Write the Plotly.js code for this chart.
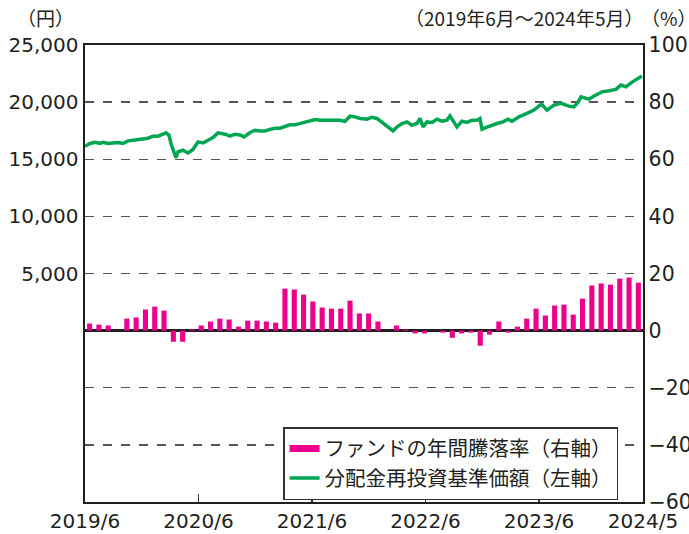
<!DOCTYPE html>
<html>
<head>
<meta charset="utf-8">
<script src="https://cdn.plot.ly/plotly-3.0.1.min.js"></script>
<style>
  html, body { margin: 0; padding: 0; background: #ffffff; }
  #chart { width: 689px; height: 534px; }
</style>
</head>
<body>
<div id="chart"></div>
<script>
// Monthly categories (2019/6 – 2024/5)
const months = [
  '2019/6','2019/7','2019/8','2019/9','2019/10','2019/11','2019/12',
  '2020/1','2020/2','2020/3','2020/4','2020/5','2020/6','2020/7','2020/8','2020/9','2020/10','2020/11','2020/12',
  '2021/1','2021/2','2021/3','2021/4','2021/5','2021/6','2021/7','2021/8','2021/9','2021/10','2021/11','2021/12',
  '2022/1','2022/2','2022/3','2022/4','2022/5','2022/6','2022/7','2022/8','2022/9','2022/10','2022/11','2022/12',
  '2023/1','2023/2','2023/3','2023/4','2023/5','2023/6','2023/7','2023/8','2023/9','2023/10','2023/11','2023/12',
  '2024/1','2024/2','2024/3','2024/4','2024/5'
];
// Fund annual return (%), right axis
const annualReturn = [
  2.5, 2.1, 1.8, 0.0, 4.2, 4.6, 7.4, 8.4, 7.0, -3.9, -3.9, 0.4,
  1.8, 3.2, 4.2, 3.9, 1.4, 3.5, 3.5, 3.2, 2.8, 14.7, 14.4, 12.6,
  10.2, 8.1, 7.7, 7.7, 10.5, 6.0, 6.0, 3.2, 0.0, 1.8, 0.4, -1.0,
  -1.0, 0.0, -0.7, -2.5, -1.0, -0.7, -5.3, -1.4, 3.2, -0.7, 1.4, 4.2,
  7.7, 5.3, 8.8, 9.1, 5.6, 11.2, 15.8, 16.5, 16.1, 18.2, 18.6, 16.8
];
// NAV with dividends reinvested (yen), left axis; time in months since 2019/6
const navMonth = [
  0, 0.53, 1.06, 1.59, 1.90, 2.43, 2.96, 3.49, 4.02, 4.55, 5.08, 5.60, 6.13, 6.66, 7.19, 7.72,
  8.25, 8.56, 8.88, 9.09, 9.41, 9.62, 9.83, 10.36, 10.89, 11.42, 11.95, 12.48, 13.00, 13.53,
  14.06, 14.49, 14.80, 15.33, 15.86, 16.39, 16.81, 17.45, 17.97, 18.50, 19.03, 19.56, 20.09,
  20.62, 21.15, 21.67, 22.20, 22.73, 23.26, 23.79, 24.32, 24.85, 25.38, 25.90, 26.43, 26.96,
  27.49, 28.02, 28.55, 29.08, 29.82, 30.34, 30.87, 31.40, 31.93, 32.57, 32.99, 33.52, 34.05,
  34.57, 35.10, 35.42, 35.74, 36.16, 36.69, 37.22, 37.75, 38.27, 38.59, 39.01, 39.33, 39.86,
  40.39, 40.92, 41.45, 41.76, 41.98, 42.50, 43.03, 43.56, 44.20, 44.72, 45.15, 45.89, 46.73,
  47.47, 48.11, 48.32, 48.85, 49.59, 50.33, 51.17, 51.70, 52.13, 52.44, 53.29, 53.82, 54.66,
  55.40, 56.14, 56.67, 57.20, 57.73, 58.36, 58.89
];
const navValue = [
  16140, 16380, 16490, 16380, 16490, 16380, 16430, 16460, 16380, 16610, 16670, 16730, 16840, 16840, 17020, 17020,
  17190, 17310, 17110, 16380, 15610, 15130, 15640, 15790, 15550, 15850, 16520, 16430, 16670, 16900,
  17310, 17240, 17190, 17020, 17190, 17130, 16960, 17340, 17540, 17480, 17480, 17610, 17720,
  17720, 17830, 18010, 18010, 18130, 18250, 18360, 18480, 18420, 18420, 18420, 18360, 18420,
  18310, 18770, 18710, 18570, 18510, 18680, 18570, 18220, 17920, 17480, 17830, 18130, 18270,
  17980, 18130, 18570, 17830, 18270, 18220, 18510, 18330, 18420, 18800, 18270, 17830, 18330,
  18220, 18420, 18420, 18570, 17630, 17810, 17980, 18130, 18270, 18510, 18330, 18710, 19010,
  19300, 19740, 19780, 19300, 19740, 19890, 19650, 19590, 20000, 20470, 20260, 20530, 20900,
  20990, 21110, 21490, 21340, 21690, 21990, 22280
];
const xTickVals = [0, 12, 24, 36, 48, 59];
const xTickText = ['2019/6', '2020/6', '2021/6', '2022/6', '2023/6', '2024/5'];
const leftTickVals = [5000, 10000, 15000, 20000, 25000];
const rightTickVals = [-60, -40, -20, 0, 20, 40, 60, 80, 100];
const legendNames = ['ファンドの年間騰落率（右軸）', '分配金再投資基準価額（左軸）'];

const MAGENTA = '#ec008c';
const GREEN = '#00a651';
const INK = '#231f20';
const NUMFONT = 'DejaVu Sans, Arial, sans-serif';
const JPFONT = 'Noto Sans CJK JP, sans-serif';

const traces = [
  {
    type: 'bar', x: months, y: annualReturn, xaxis: 'x2', yaxis: 'y2',
    marker: { color: MAGENTA }, showlegend: false, hoverinfo: 'x+y'
  },
  {
    type: 'scatter', mode: 'lines', x: [null], y: [null],
    name: legendNames[0], line: { color: MAGENTA, width: 7 }, showlegend: true
  },
  {
    type: 'scatter', mode: 'lines', x: navMonth, y: navValue, xaxis: 'x', yaxis: 'y',
    name: legendNames[1], line: { color: GREEN, width: 3.5 }
  }
];

const layout = {
  width: 689, height: 534,
  margin: { l: 85, r: 46, t: 45, b: 32 },
  paper_bgcolor: '#ffffff', plot_bgcolor: '#ffffff',
  font: { family: NUMFONT, size: 20, color: INK },
  bargap: 0.45,
  showlegend: true,
  legend: {
    x: 0.355, y: 0.164, xanchor: 'left', yanchor: 'top',
    bgcolor: '#ffffff', bordercolor: '#333333', borderwidth: 1.5,
    font: { family: JPFONT, size: 20.5, color: INK },
    tracegroupgap: 0, itemwidth: 30
  },
  xaxis: {
    type: 'linear', range: [0, 59],
    tickmode: 'array', tickvals: xTickVals, ticktext: xTickText,
    ticks: 'inside', ticklen: 8, tickwidth: 1.2, tickcolor: '#333',
    showline: true, linecolor: INK, linewidth: 2, mirror: true,
    showgrid: false, zeroline: false,
    tickfont: { family: NUMFONT, size: 20, color: INK }
  },
  xaxis2: {
    type: 'category', overlaying: 'x', anchor: 'y2',
    range: [-0.5, 59.5], visible: false
  },
  yaxis: {
    range: [-15000, 25000],
    tickmode: 'array', tickvals: leftTickVals, tickformat: ',d',
    ticks: '', showline: true, linecolor: INK, linewidth: 2.5,
    showgrid: false, zeroline: false,
    tickfont: { family: NUMFONT, size: 20, color: INK }
  },
  yaxis2: {
    overlaying: 'y', side: 'right', anchor: 'x2',
    range: [-60, 100],
    tickmode: 'array', tickvals: rightTickVals,
    ticks: '', showline: true, linecolor: INK, linewidth: 1.5,
    showgrid: true, gridcolor: '#555555', gridwidth: 1.3, griddash: 'dash',
    zeroline: true, zerolinecolor: INK, zerolinewidth: 2.5,
    tickfont: { family: NUMFONT, size: 20.5, color: INK }
  },
  annotations: [
    { text: '（円）', xref: 'paper', yref: 'paper', x: -0.07, y: 1, yshift: 12,
      xanchor: 'center', yanchor: 'bottom', showarrow: false,
      font: { family: JPFONT, size: 19, color: INK } },
    { text: '（2019年6月～2024年5月）', xref: 'paper', yref: 'paper', x: 1.0, xshift: 2, y: 1, yshift: 12,
      xanchor: 'right', yanchor: 'bottom', showarrow: false,
      font: { family: JPFONT, size: 19, color: INK } },
    { text: '（%）', xref: 'paper', yref: 'paper', x: 1.0, xshift: -4, y: 1, yshift: 12,
      xanchor: 'left', yanchor: 'bottom', showarrow: false,
      font: { family: JPFONT, size: 19, color: INK } }
  ]
};

Plotly.newPlot('chart', traces, layout, { displayModeBar: false, staticPlot: true });
</script>
</body>
</html>
